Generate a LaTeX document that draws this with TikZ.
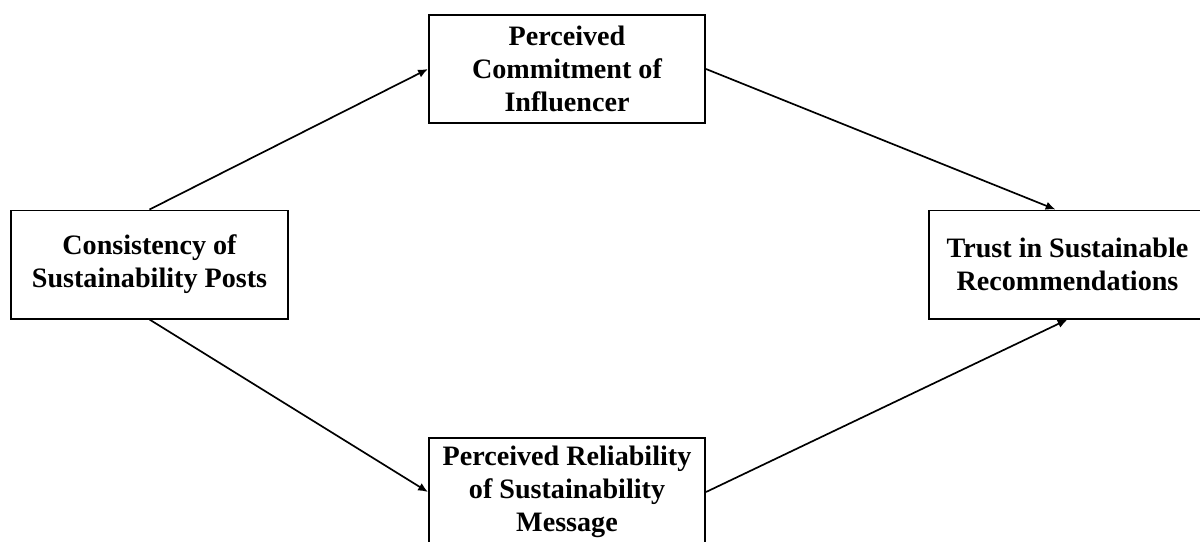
\documentclass[tikz,border=0pt]{standalone}
\usepackage{fontspec}
\setmainfont{Liberation Serif}
\usetikzlibrary{arrows.meta}
\begin{document}
\begin{tikzpicture}[x=0.025cm,y=-0.025cm,
  box/.style={draw,line width=1.4pt,minimum width=6.9cm,minimum height=2.7cm,
    inner sep=0pt,align=center,font=\fontsize{20}{23.5}\selectfont\bfseries},
  link/.style={-{Latex[length=7pt,width=6pt]},line width=1.2pt}]
\useasboundingbox (0,0) rectangle (1200,541);
% boxes
\node[box] (consistency) at (149.5,264.5) {Consistency of\\Sustainability Posts};
\node[box] (commitment) at (567,69) {Perceived\\Commitment of\\Influencer};
\node[box] (reliability) at (567,492) {Perceived Reliability\\of Sustainability\\Message};
\node[box] (trust) at (1067.5,264.5) {Trust in Sustainable\\Recommendations};
% arrows
\draw[link] (consistency.north) -- (commitment.west);
\draw[link] (consistency.south) -- (reliability.west);
\draw[link] (commitment.east) -- ([xshift=-0.3cm]trust.north);
\draw[link] (reliability.east) -- (trust.south);
\end{tikzpicture}
\end{document}
